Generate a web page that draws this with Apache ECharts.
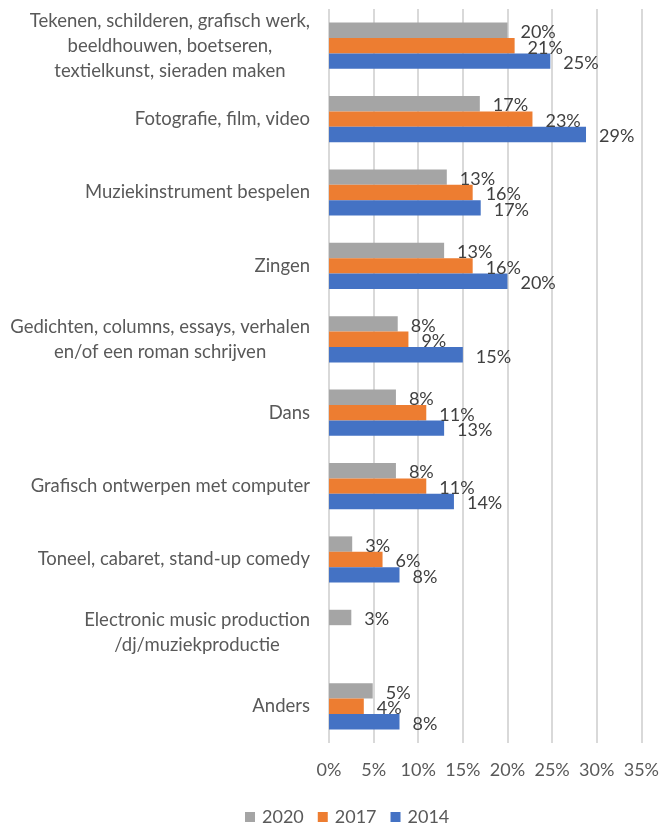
<!DOCTYPE html>
<html>
<head>
<meta charset="utf-8">
<script src="https://cdn.jsdelivr.net/npm/echarts@6/dist/echarts.min.js"></script>
<style>
  html, body { margin: 0; padding: 0; background: #fff; }
  #mybox { width: 662px; height: 824px; }
</style>
</head>
<body>
<div id="mybox"></div>
<script>
// categorieën (van boven naar beneden)
var categories = [
  'Tekenen, schilderen, grafisch werk,\nbeeldhouwen, boetseren,\ntextielkunst, sieraden maken',
  'Fotografie, film, video',
  'Muziekinstrument bespelen',
  'Zingen',
  'Gedichten, columns, essays, verhalen\nen/of een roman schrijven',
  'Dans',
  'Grafisch ontwerpen met computer',
  'Toneel, cabaret, stand-up comedy',
  'Electronic music production\n/dj/muziekproductie',
  'Anders'
];

// percentages per jaar
var values2020 = [20.0, 16.9, 13.2, 12.9, 7.7, 7.5, 7.5, 2.6, 2.5, 4.9];
var values2017 = [20.8, 22.8, 16.1, 16.1, 8.9, 10.9, 10.9, 6.0, null, 3.9];
var values2014 = [24.8, 28.8, 17.0, 20.0, 15.0, 12.9, 14.0, 7.9, null, 7.9];

var years = ['2020', '2017', '2014'];
var colors = ['#a5a5a5', '#ed7d31', '#4472c4'];

var font = 'Lato, "Open Sans", sans-serif';

var mycharts = echarts.init(document.getElementById('mybox'));

function barSeries(name, data, color) {
  return {
    name: name,
    type: 'bar',
    data: data,
    barCategoryGap: '37%',
    barGap: '0%',
    itemStyle: { color: color },
    label: {
      show: true,
      position: 'right',
      distance: 13,
      offset: [0, 2],
      color: '#404040',
      fontFamily: font,
      fontSize: 18,
      formatter: function (p) {
        return p.value == null ? '' : Math.round(p.value) + '%';
      }
    }
  };
}

var optionObj = {
  animation: false,
  grid: { left: 329, right: 20, top: 9, bottom: 81, containLabel: false },
  legend: {
    data: years,
    left: 240,
    top: 803,
    icon: 'rect',
    itemWidth: 10,
    itemHeight: 10,
    itemGap: 14,
    textStyle: { color: '#595959', fontFamily: font, fontSize: 18, padding: [0, 0, 0, 2] }
  },
  xAxis: {
    type: 'value',
    min: 0,
    max: 35,
    interval: 5,
    axisLine: { show: false },
    axisTick: { show: false },
    splitLine: { lineStyle: { color: '#d9d9d9', width: 2 } },
    axisLabel: {
      color: '#595959',
      fontFamily: font,
      fontSize: 18,
      margin: 18,
      formatter: '{value}%'
    }
  },
  yAxis: {
    type: 'category',
    inverse: true,
    data: categories,
    axisLine: { show: false },
    axisTick: { show: false },
    axisLabel: {
      margin: 19,
      align: 'right',
      formatter: function (v) {
        return v.split('\n').map(function (s) { return '{c|' + s + '}'; }).join('\n');
      },
      rich: {
        c: { align: 'center', color: '#595959', fontFamily: font, fontSize: 18.5, lineHeight: 25 }
      }
    }
  },
  series: [
    barSeries(years[0], values2020, colors[0]),
    barSeries(years[1], values2017, colors[1]),
    barSeries(years[2], values2014, colors[2])
  ]
};

mycharts.setOption(optionObj);
</script>
</body>
</html>
